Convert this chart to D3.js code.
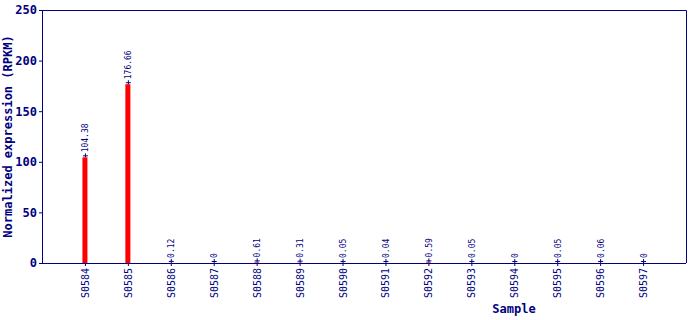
<!DOCTYPE html>
<html>
<head>
<meta charset="utf-8">
<script src="https://cdn.jsdelivr.net/npm/d3@7"></script>
<style>
  body { margin: 0; background: #fff; }
  text { font-family: "DejaVu Sans Mono", "Liberation Mono", monospace; fill: #000080; }
</style>
</head>
<body>
<div id="chart"></div>
<script>
// sample names and their expression values
var samples = ["S0584", "S0585", "S0586", "S0587", "S0588", "S0589", "S0590",
               "S0591", "S0592", "S0593", "S0594", "S0595", "S0596", "S0597"];
var values = [104.38, 176.66, 0.12, 0, 0.61, 0.31, 0.05, 0.04, 0.59, 0.05, 0, 0.05, 0.06, 0];
var labels = ["104.38", "176.66", "0.12", "0", "0.61", "0.31", "0.05",
              "0.04", "0.59", "0.05", "0", "0.05", "0.06", "0"];
var yTicks = [0, 50, 100, 150, 200, 250];

// note: "top" is a reserved window property, so use plotTop etc.
var width = 690, height = 320,
    plotLeft = 42, plotRight = 686, plotTop = 10, plotBottom = 263,
    navy = "#000080";

var svg = d3.select("#chart").append("svg")
    .attr("width", width)
    .attr("height", height);

var x = d3.scalePoint()
    .domain(samples)
    .range([plotLeft, plotRight])
    .padding(1);

var y = d3.scaleLinear()
    .domain([0, 250])
    .range([plotBottom, plotTop]);

// frame: top and right borders
svg.append("path")
    .attr("d", "M" + plotLeft + "," + (plotTop + 0.5) + "H" + (plotRight + 0.5) + "V" + plotBottom)
    .attr("fill", "none")
    .attr("stroke", navy);

// y axis
var yAxis = svg.append("g")
    .attr("transform", "translate(" + plotLeft + ",0)")
    .call(d3.axisLeft(y).tickValues(yTicks).tickSize(3).tickSizeOuter(0).tickPadding(2));
yAxis.selectAll("path, line").attr("stroke", navy);
yAxis.selectAll("text")
    .style("font-size", "12px")
    .style("font-weight", "bold")
    .attr("fill", navy);

// x axis
var xAxis = svg.append("g")
    .attr("transform", "translate(0," + plotBottom + ")")
    .call(d3.axisBottom(x).tickSize(3).tickSizeOuter(0));
xAxis.select(".domain").attr("d", "M" + plotLeft + ",0.5H" + plotRight).attr("stroke", navy);
xAxis.selectAll("line").attr("stroke", navy);
xAxis.selectAll("text")
    .style("font-size", "10px")
    .attr("fill", navy)
    .attr("text-anchor", "end")
    .attr("transform", "rotate(-90)")
    .attr("x", -5)
    .attr("y", 0)
    .attr("dy", "0.35em");

// bars
svg.selectAll("rect.bar")
    .data(values)
    .enter().append("rect")
    .attr("class", "bar")
    .attr("x", (d, i) => x(samples[i]) - 2.5)
    .attr("y", d => y(d))
    .attr("width", 5)
    .attr("height", d => plotBottom - y(d))
    .attr("fill", "#ff0000");

// small whiskers at top of each bar
var whisk = svg.selectAll("g.whisk")
    .data(values)
    .enter().append("g")
    .attr("class", "whisk")
    .attr("transform", (d, i) => "translate(" + x(samples[i]) + "," + y(d) + ")");
whisk.append("line")
    .attr("x1", 0.5).attr("x2", 0.5)
    .attr("y1", 0).attr("y2", -4)
    .attr("stroke", navy);
whisk.append("line")
    .attr("x1", -2).attr("x2", 3)
    .attr("y1", -1.5).attr("y2", -1.5)
    .attr("stroke", navy);

// value labels
svg.selectAll("text.val")
    .data(values)
    .enter().append("text")
    .attr("class", "val")
    .attr("transform", (d, i) => "translate(" + (x(samples[i]) + 3.5) + "," + (y(d) - 5) + ") rotate(-90)")
    .attr("text-anchor", "start")
    .style("font-size", "8px")
    .text((d, i) => labels[i]);

// axis titles
svg.append("text")
    .attr("transform", "translate(12," + ((plotTop + plotBottom) / 2) + ") rotate(-90)")
    .attr("text-anchor", "middle")
    .style("font-size", "12px")
    .style("font-weight", "bold")
    .text("Normalized expression (RPKM)");

svg.append("text")
    .attr("x", 514)
    .attr("y", 313)
    .attr("text-anchor", "middle")
    .style("font-size", "12px")
    .style("font-weight", "bold")
    .text("Sample");
</script>
</body>
</html>
